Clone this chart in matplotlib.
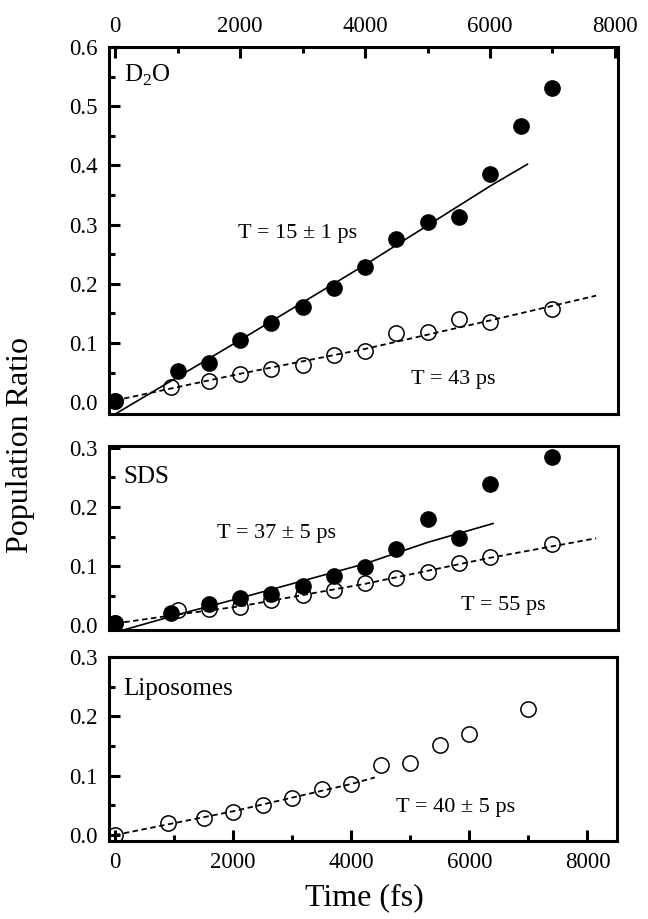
import matplotlib
matplotlib.use("Agg")
import matplotlib.pyplot as plt
from matplotlib.ticker import MultipleLocator, FormatStrFormatter

plt.rcParams['font.family'] = ['Liberation Serif', 'DejaVu Serif']
plt.rcParams['mathtext.fontset'] = 'custom'
plt.rcParams['mathtext.rm'] = 'Liberation Serif'

# D2O panel
d2o_t_filled = [0, 1000, 1500, 2000, 2500, 3000, 3500, 4000, 4500, 5000, 5500, 6000, 6500, 7000]
d2o_filled = [0.002, 0.052, 0.066, 0.105, 0.134, 0.161, 0.193, 0.229, 0.275, 0.305, 0.313, 0.386, 0.466, 0.530]
d2o_t_open = [0, 900, 1500, 2000, 2500, 3000, 3500, 4000, 4500, 5000, 5500, 6000, 7000]
d2o_open = [0.002, 0.025, 0.036, 0.047, 0.056, 0.063, 0.079, 0.087, 0.117, 0.118, 0.140, 0.136, 0.157]
d2o_fit_t = [0, 2000, 4000, 6000, 6600]
d2o_fit = [-0.02, 0.105, 0.232, 0.365, 0.402]
d2o_dash_t = [0, 2000, 4000, 6000, 7700]
d2o_dash = [0.003, 0.048, 0.090, 0.138, 0.180]

# SDS panel
sds_t_filled = [0, 900, 1500, 2000, 2500, 3000, 3500, 4000, 4500, 5000, 5500, 6000, 7000]
sds_filled = [0.003, 0.020, 0.036, 0.046, 0.052, 0.067, 0.083, 0.098, 0.129, 0.179, 0.148, 0.238, 0.284]
sds_t_open = [0, 1000, 1500, 2000, 2500, 3000, 3500, 4000, 4500, 5000, 5500, 6000, 7000]
sds_open = [0.003, 0.025, 0.028, 0.031, 0.042, 0.051, 0.060, 0.071, 0.080, 0.090, 0.106, 0.116, 0.138]
sds_fit_t = [0, 1000, 2000, 3000, 4000, 5000, 6050]
sds_fit = [-0.012, 0.018, 0.046, 0.075, 0.104, 0.140, 0.172]
sds_dash_t = [0, 1000, 2000, 4000, 6000, 7700]
sds_dash = [0.003, 0.018, 0.032, 0.070, 0.114, 0.147]

# Liposomes panel
lip_t = [0, 900, 1500, 2000, 2500, 3000, 3500, 4000, 4500, 5000, 5500, 6000, 7000]
lip_open = [0.0, 0.020, 0.029, 0.039, 0.051, 0.062, 0.078, 0.086, 0.118, 0.122, 0.151, 0.170, 0.212]
lip_dash_t = [0, 2000, 4000, 4400]
lip_dash = [0.0, 0.040, 0.086, 0.097]

fig = plt.figure(figsize=(6.48, 9.19), dpi=100)
ax1 = fig.add_axes([0.1682, 0.5495, 0.7855, 0.3993])
ax2 = fig.add_axes([0.1682, 0.3145, 0.7855, 0.2002])
ax3 = fig.add_axes([0.1682, 0.0849, 0.784, 0.2002])

ms = 11
dash = (0, (3, 2))


def style(ax, ylim):
    ax.set_ylim(*ylim)
    for s in ax.spines.values():
        s.set_linewidth(2.2)
    ax.yaxis.set_major_locator(MultipleLocator(0.1))
    ax.yaxis.set_minor_locator(MultipleLocator(0.05))
    ax.yaxis.set_major_formatter(FormatStrFormatter('%.1f'))
    ax.tick_params(axis='y', which='both', direction='in', left=True, right=False,
                   labelsize=16.5, pad=8, width=2.2)
    ax.tick_params(axis='y', which='major', length=8)
    ax.tick_params(axis='y', which='minor', length=4.3)
    ax.xaxis.set_major_locator(MultipleLocator(2000))
    ax.xaxis.set_minor_locator(MultipleLocator(1000))


# top
ax1.plot(d2o_fit_t, d2o_fit, '-', color='black', lw=1.2, zorder=2)
ax1.plot(d2o_dash_t, d2o_dash, color='black', lw=1.3, linestyle=dash, zorder=2)
ax1.plot(d2o_t_open, d2o_open, 'o', ms=ms, mfc='none', mec='black', mew=1.1, zorder=3)
ax1.plot(d2o_t_filled, d2o_filled, 'o', ms=ms, color='black', zorder=4)
ax1.set_xlim(-100, 8050)
style(ax1, (-0.02, 0.6))
ax1.tick_params(axis='x', which='both', direction='in', top=True, bottom=False,
                labeltop=True, labelbottom=False, labelsize=16.5, pad=7, width=2.2)
ax1.tick_params(axis='x', which='major', length=8)
ax1.tick_params(axis='x', which='minor', length=4.3)
ax1.text(0.03, 0.905, 'D$_2$O', transform=ax1.transAxes, fontsize=18, va='baseline')
ax1.text(2925, 0.278, 'T = 15 ± 1 ps', fontsize=16, ha='center', va='baseline')
ax1.text(5415, 0.031, 'T = 43 ps', fontsize=16, ha='center', va='baseline')

# middle
ax2.plot(sds_fit_t, sds_fit, '-', color='black', lw=1.2, zorder=2)
ax2.plot(sds_dash_t, sds_dash, color='black', lw=1.3, linestyle=dash, zorder=2)
ax2.plot(sds_t_open, sds_open, 'o', ms=ms, mfc='none', mec='black', mew=1.1, zorder=3)
ax2.plot(sds_t_filled, sds_filled, 'o', ms=ms, color='black', zorder=4)
ax2.set_xlim(-100, 8050)
style(ax2, (-0.008, 0.303))
ax2.tick_params(axis='x', which='both', top=False, bottom=False,
                labeltop=False, labelbottom=False)
ax2.text(0.028, 0.80, 'SDS', transform=ax2.transAxes, fontsize=18, va='baseline')
ax2.text(2585, 0.147, 'T = 37 ± 5 ps', fontsize=16, ha='center', va='baseline')
ax2.text(6215, 0.025, 'T = 55 ps', fontsize=16, ha='center', va='baseline')

# bottom
ax3.plot(lip_dash_t, lip_dash, color='black', lw=1.3, linestyle=dash, zorder=2)
ax3.plot(lip_t, lip_open, 'o', ms=ms, mfc='none', mec='black', mew=1.1, zorder=3)
ax3.set_xlim(-100, 8500)
style(ax3, (-0.01, 0.3))
ax3.tick_params(axis='x', which='both', direction='in', top=False, bottom=True,
                labelsize=16.5, pad=8, width=2.2)
ax3.tick_params(axis='x', which='major', length=8)
ax3.tick_params(axis='x', which='minor', length=4.3)
ax3.text(0.028, 0.793, 'Liposomes', transform=ax3.transAxes, fontsize=18, va='baseline')
ax3.text(5760, 0.039, 'T = 40 ± 5 ps', fontsize=16, ha='center', va='baseline')

fig.text(21 / 648, 1 - 445 / 919, 'Population Ratio', rotation=90, fontsize=23,
         ha='center', va='center')
fig.text(364 / 648, 1 - 905 / 919, 'Time (fs)', fontsize=23, ha='center', va='baseline')

fig.savefig('out.png', dpi=100)
